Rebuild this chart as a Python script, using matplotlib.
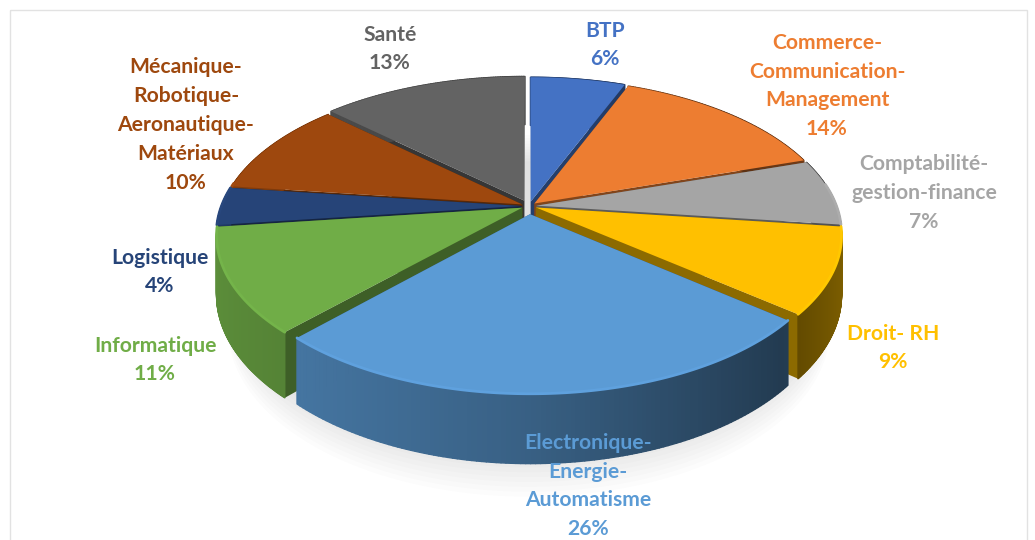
# Camembert 3D des filières, dessiné à la main avec une projection en perspective
import numpy as np
import matplotlib
matplotlib.use("Agg")
import matplotlib.pyplot as plt
from matplotlib.collections import PolyCollection
from matplotlib.patches import Polygon, Rectangle

plt.rcParams['font.family'] = ['Lato', 'DejaVu Sans']

filieres = ["BTP", "Commerce-\nCommunication-\nManagement", "Comptabilité-\ngestion-finance", "Droit- RH",
            "Electronique-\nEnergie-\nAutomatisme", "Informatique", "Logistique",
            "Mécanique-\nRobotique-\nAeronautique-\nMatériaux", "Santé"]
parts = [6, 14, 7, 9, 26, 11, 4, 10, 13]

couleurs = ["#4472C4", "#ED7D31", "#A5A5A5", "#FFC000", "#5B9BD5", "#70AD47", "#264478", "#9E480E", "#636363"]
pos_labels = [(605, 45), (827, 86), (924, 193), (893, 348), (588, 486), (155, 360), (160, 272), (186, 125), (390, 49)]

# Paramètres de la projection
cx, cy = 529, 206
A, B, k = 300, 148, 0.178
h = 57
ecart = [0.03, 0.025, 0.025, 0.025, 0.055, 0.025, 0.025, 0.025, 0.04]
rayon = [1, 1, 1, 1, 0.98, 1, 1, 1, 1]


def projeter(u, v, z=0.0):
    s = 1 / (1 + k * v)
    return cx + A * u * s, cy - B * v * s + z * s


def assombrir(coul, f):
    return tuple(min(1, f * c) for c in matplotlib.colors.to_rgb(coul))


def quads(x1, y1, x2, y2):
    return [[(x1[i], y1[i]), (x1[i + 1], y1[i + 1]), (x2[i + 1], y2[i + 1]), (x2[i], y2[i])] for i in range(len(x1) - 1)]


fig = plt.figure(figsize=(10.35, 5.4), dpi=100)
ax = fig.add_axes([0, 0, 1, 1])
ax.set_xlim(0, 1035)
ax.set_ylim(540, 0)
ax.axis('off')

# Cadre très clair autour du graphique
ax.add_patch(Rectangle((10, 10), 1017, 560, fill=False, ec="#e2e2e2", lw=1))

# Ombre douce sous le camembert
t = np.linspace(0, 2 * np.pi, 300)
for d in range(1, 11):
    xo, yo = projeter(0.97 * np.sin(t), 0.97 * np.cos(t) - 0.01 * d, h + 2 * d)
    ax.add_patch(Polygon(np.column_stack([xo, yo]), fc="black", ec="none", alpha=0.012, zorder=1))

cumul = np.cumsum([0] + parts) / sum(parts) * 2 * np.pi
milieux = (cumul[:-1] + cumul[1:]) / 2
ordre = np.argsort(-np.cos(milieux))  # de l'arrière vers l'avant

zo = 2
for i in ordre:
    th = np.linspace(cumul[i], cumul[i + 1], 120)
    r = rayon[i]
    du, dv = ecart[i] * np.sin(milieux[i]), ecart[i] * np.cos(milieux[i])
    u, v = du + r * np.sin(th), dv + r * np.cos(th)
    xh, yh = projeter(u, v)
    xb, yb = projeter(u, v, h)
    xa, ya = projeter(du, dv)
    xa2, ya2 = projeter(du, dv, h)

    # parois radiales
    for j in (0, -1):
        ax.add_patch(Polygon([(xa, ya), (xh[j], yh[j]), (xb[j], yb[j]), (xa2, ya2)],
                             fc=assombrir(couleurs[i], 0.55), ec="none", zorder=zo))
    # paroi extérieure, en dégradé de gauche à droite
    f = np.interp(np.sin(th[:-1]), [-1, 0, 0.75, 1], [0.82, 0.62, 0.38, 0.5])
    cols = [assombrir(couleurs[i], x) for x in f]
    ax.add_collection(PolyCollection(quads(xh, yh, xb, yb), facecolors=cols, edgecolors=cols, lw=1.0, zorder=zo))
    # face supérieure
    ax.add_patch(Polygon(np.column_stack([np.r_[xa, xh], np.r_[ya, yh]]), fc=couleurs[i], ec="none", zorder=zo + 0.5))
    # liseré clair sur le bord avant
    avant = np.cos(th) < 0.15
    if avant.any():
        ax.plot(xh[avant], yh[avant], color=assombrir(couleurs[i], 1.04), lw=2.0, zorder=zo + 0.6, solid_capstyle='round')
    zo += 1

# Étiquettes
for nom, p, coul, (lx, ly) in zip(filieres, parts, couleurs, pos_labels):
    ax.text(lx, ly, nom + "\n" + str(p) + "%", color=coul, fontsize=15.2, fontweight='bold', ha='center', va='center',
            linespacing=1.55, zorder=50)

fig.savefig("out.png", dpi=100, facecolor="white")
